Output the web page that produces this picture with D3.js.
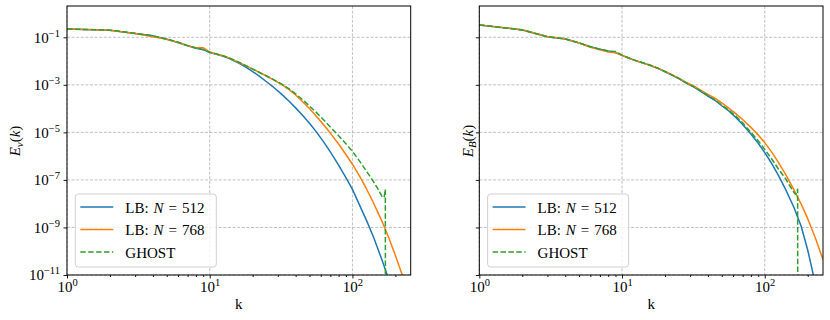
<!DOCTYPE html>
<meta charset="utf-8">
<style>
  body { margin: 0; background: #fff; }
  text { font-family: "Liberation Serif", "DejaVu Serif", serif; fill: #000; }
</style>
<svg width="830" height="320"></svg>
<script src="https://cdn.jsdelivr.net/npm/d3@7"></script>
<script>
    // wavenumbers shared by the two LB runs
    const kLB = [1, 2, 3, 4, 5, 6, 7, 8, 9, 10, 11, 12, 13, 14, 15, 16, 18, 20, 22, 25, 28,
        32, 36, 40, 45, 50, 56, 63, 70, 80, 90, 100, 112, 125, 140, 160, 180, 200, 225, 256];
    // GHOST stops at k = N/3
    const kGhost = [1, 2, 3, 4, 5, 6, 7, 8, 9, 10, 11, 12, 13, 14, 15, 16, 18, 20, 22, 25, 28,
        32, 36, 40, 45, 50, 56, 63, 70, 80, 90, 100, 112, 125, 140, 150, 160, 164, 167, 170, 170.5];

    // log10 of the spectra
    const logEv512 = [-0.65, -0.70, -0.84, -0.94, -1.08, -1.22, -1.36, -1.46, -1.52, -1.64, -1.70, -1.77, -1.84,
        -1.92, -2.01, -2.09, -2.27, -2.44, -2.61, -2.87, -3.10, -3.40, -3.69, -3.97, -4.30, -4.62, -4.99, -5.41,
        -5.82, -6.38, -6.90, -7.40, -8.05, -8.68, -9.38, -10.32, -11.20, -12.05, -13.1, -14.2];
    const logEv768 = [-0.65, -0.70, -0.84, -0.98, -1.08, -1.22, -1.35, -1.44, -1.44, -1.62, -1.70, -1.76, -1.82,
        -1.90, -1.98, -2.06, -2.20, -2.34, -2.46, -2.63, -2.79, -2.99, -3.20, -3.43, -3.72, -4.00, -4.33, -4.69,
        -5.03, -5.49, -5.93, -6.34, -6.83, -7.36, -7.95, -8.70, -9.44, -10.18, -11.05, -12.06];
    const logEvGhost = [-0.65, -0.70, -0.83, -0.94, -1.07, -1.21, -1.35, -1.45, -1.51, -1.63, -1.69, -1.75, -1.82,
        -1.89, -1.97, -2.05, -2.20, -2.34, -2.46, -2.63, -2.78, -2.97, -3.17, -3.38, -3.64, -3.89, -4.17, -4.48,
        -4.77, -5.14, -5.48, -5.80, -6.20, -6.62, -7.06, -7.35, -7.66, -7.75, -7.70, -7.40, -16];

    const logEB512 = [-0.48, -0.69, -0.98, -1.07, -1.24, -1.40, -1.50, -1.58, -1.64, -1.76, -1.86, -1.95, -2.02,
        -2.08, -2.14, -2.20, -2.32, -2.45, -2.57, -2.74, -2.92, -3.10, -3.30, -3.47, -3.66, -3.88, -4.10, -4.38,
        -4.67, -5.07, -5.46, -5.85, -6.31, -6.82, -7.40, -8.15, -8.95, -9.95, -11.3, -13.0];
    const logEB768 = [-0.48, -0.68, -0.97, -1.06, -1.24, -1.42, -1.53, -1.62, -1.65, -1.76, -1.86, -1.95, -2.02,
        -2.08, -2.14, -2.20, -2.31, -2.44, -2.55, -2.72, -2.89, -3.06, -3.24, -3.40, -3.57, -3.76, -3.98, -4.22,
        -4.46, -4.79, -5.11, -5.43, -5.83, -6.27, -6.77, -7.41, -8.02, -8.63, -9.40, -10.35];
    const logEBGhost = [-0.48, -0.69, -0.98, -1.07, -1.23, -1.40, -1.50, -1.58, -1.60, -1.75, -1.85, -1.94, -2.01,
        -2.07, -2.13, -2.19, -2.31, -2.44, -2.56, -2.73, -2.91, -3.09, -3.28, -3.45, -3.64, -3.85, -4.06, -4.32,
        -4.60, -5.00, -5.35, -5.72, -6.12, -6.55, -6.95, -7.25, -7.52, -7.60, -7.56, -7.39, -16];

    const xTicks = [1, 10, 100];
    const xMinor = [2, 3, 4, 5, 6, 7, 8, 9, 20, 30, 40, 50, 60, 70, 80, 90, 200];
    const yTicks = [1e-1, 1e-3, 1e-5, 1e-7, 1e-9, 1e-11];
    const legendLabels = [["LB: ", "N", "512"], ["LB: ", "N", "768"], ["GHOST"]];
    const colors = ["#1f77b4", "#ff7f0e", "#2ca02c"];

    const svg = d3.select("svg");
    const plotTop = 6, plotBottom = 275, pw = 343.7;

    const panels = [
        { x0: 67, sub: "v", series: [logEv512, logEv768, logEvGhost], showY: true, labX: 15 },
        { x0: 479.3, sub: "B", series: [logEB512, logEB768, logEBGhost], showY: false, labX: 467.5 }
    ];

    const y = d3.scaleLog().domain([1e-11, 2.07]).range([plotBottom, plotTop]);

    function powLabel(sel) {
        sel.each(function (d) {
            const p = Math.round(Math.log10(d));
            const t = d3.select(this).text(null);
            t.append("tspan").text("10");
            t.append("tspan").attr("dy", -6).attr("font-size", 10.5)
                .text(p < 0 ? "\u2212" + (-p) : p);
        });
    }

    panels.forEach(function (p, pi) {
        const x = d3.scaleLog().domain([1, 256]).range([p.x0, p.x0 + pw]);
        const g = svg.append("g");

        svg.append("clipPath").attr("id", "clip" + pi)
            .append("rect").attr("x", p.x0).attr("y", plotTop).attr("width", pw).attr("height", plotBottom - plotTop);

        // grid
        const grid = g.append("g").attr("stroke", "#b0b0b0").attr("stroke-width", 0.8)
            .attr("stroke-dasharray", "3,1.6");
        grid.selectAll(".gx").data(xTicks).join("line")
            .attr("x1", d => x(d)).attr("x2", d => x(d)).attr("y1", plotTop).attr("y2", plotBottom);
        grid.selectAll(".gy").data(yTicks).join("line")
            .attr("y1", d => y(d)).attr("y2", d => y(d)).attr("x1", p.x0).attr("x2", p.x0 + pw);

        // curves
        const curves = g.append("g").attr("clip-path", "url(#clip" + pi + ")");
        const ks = [kLB, kLB, kGhost];
        p.series.forEach(function (s, si) {
            const pts = s.map((v, i) => [ks[si][i], v]);
            curves.append("path")
                .attr("d", d3.line().x(d => x(d[0])).y(d => y(Math.pow(10, d[1])))(pts))
                .attr("fill", "none").attr("stroke", colors[si]).attr("stroke-width", 1.5)
                .attr("stroke-linejoin", "round")
                .attr("stroke-dasharray", si === 2 ? "5.5,2.4" : null);
        });

        // axes
        const ax = g.append("g").attr("transform", "translate(0," + plotBottom + ")")
            .call(d3.axisBottom(x).tickValues(xTicks).tickSize(3.5).tickPadding(4));
        ax.selectAll("text").attr("font-size", 15).attr("font-family", "Liberation Serif")
            .attr("dy", null).attr("y", 16.5).call(powLabel);
        g.append("g").attr("transform", "translate(0," + plotBottom + ")")
            .call(d3.axisBottom(x).tickValues(xMinor).tickSize(2).tickFormat(""));

        const ay = g.append("g").attr("transform", "translate(" + p.x0 + ",0)")
            .call(d3.axisLeft(y).tickValues(yTicks).tickSize(3.5).tickPadding(3.5));
        if (p.showY) {
            ay.selectAll("text").attr("font-size", 15).attr("font-family", "Liberation Serif")
                .attr("dy", "0.33em").call(powLabel);
        } else {
            ay.selectAll("text").remove();
        }
        g.selectAll(".domain").remove();
        g.selectAll(".tick line").attr("stroke", "#000").attr("stroke-width", 0.9);

        g.append("rect").attr("x", p.x0).attr("y", plotTop).attr("width", pw).attr("height", plotBottom - plotTop)
            .attr("fill", "none").attr("stroke", "#000").attr("stroke-width", 1);

        // axis labels
        g.append("text").attr("x", p.x0 + pw / 2).attr("y", 309).attr("text-anchor", "middle")
            .attr("font-size", 15).text("k");
        const yl = g.append("text").attr("transform", "translate(" + p.labX + ",141) rotate(-90)")
            .attr("text-anchor", "middle").attr("font-size", 15).attr("dy", "0.35em");
        yl.append("tspan").attr("font-style", "italic").text("E");
        yl.append("tspan").attr("font-style", "italic").attr("font-size", 11).attr("dy", 3).text(p.sub);
        yl.append("tspan").attr("dy", -3).text("(");
        yl.append("tspan").attr("font-style", "italic").text("k");
        yl.append("tspan").text(")");

        // legend
        const lx = p.x0 + 8.3, lg = g.append("g");
        lg.append("rect").attr("x", lx).attr("y", 194).attr("width", 141).attr("height", 73).attr("rx", 3)
            .attr("fill", "#fff").attr("fill-opacity", 0.8).attr("stroke", "#ccc").attr("stroke-width", 0.9);
        legendLabels.forEach(function (lab, i) {
            const ly = 207 + i * 22.5;
            lg.append("line").attr("x1", lx + 5).attr("x2", lx + 38).attr("y1", ly).attr("y2", ly)
                .attr("stroke", colors[i]).attr("stroke-width", 1.5)
                .attr("stroke-dasharray", i === 2 ? "5.5,2.4" : null);
            const t = lg.append("text").attr("x", lx + 50).attr("y", ly + 5.5).attr("font-size", 15);
            if (lab.length === 1) {
                t.text(lab[0]);
            } else {
                t.append("tspan").text(lab[0]);
                t.append("tspan").attr("dx", 1).attr("font-style", "italic").text(lab[1]);
                t.append("tspan").attr("dx", 5).text("=");
                t.append("tspan").attr("dx", 5).text(lab[2]);
            }
        });
    });
</script>
